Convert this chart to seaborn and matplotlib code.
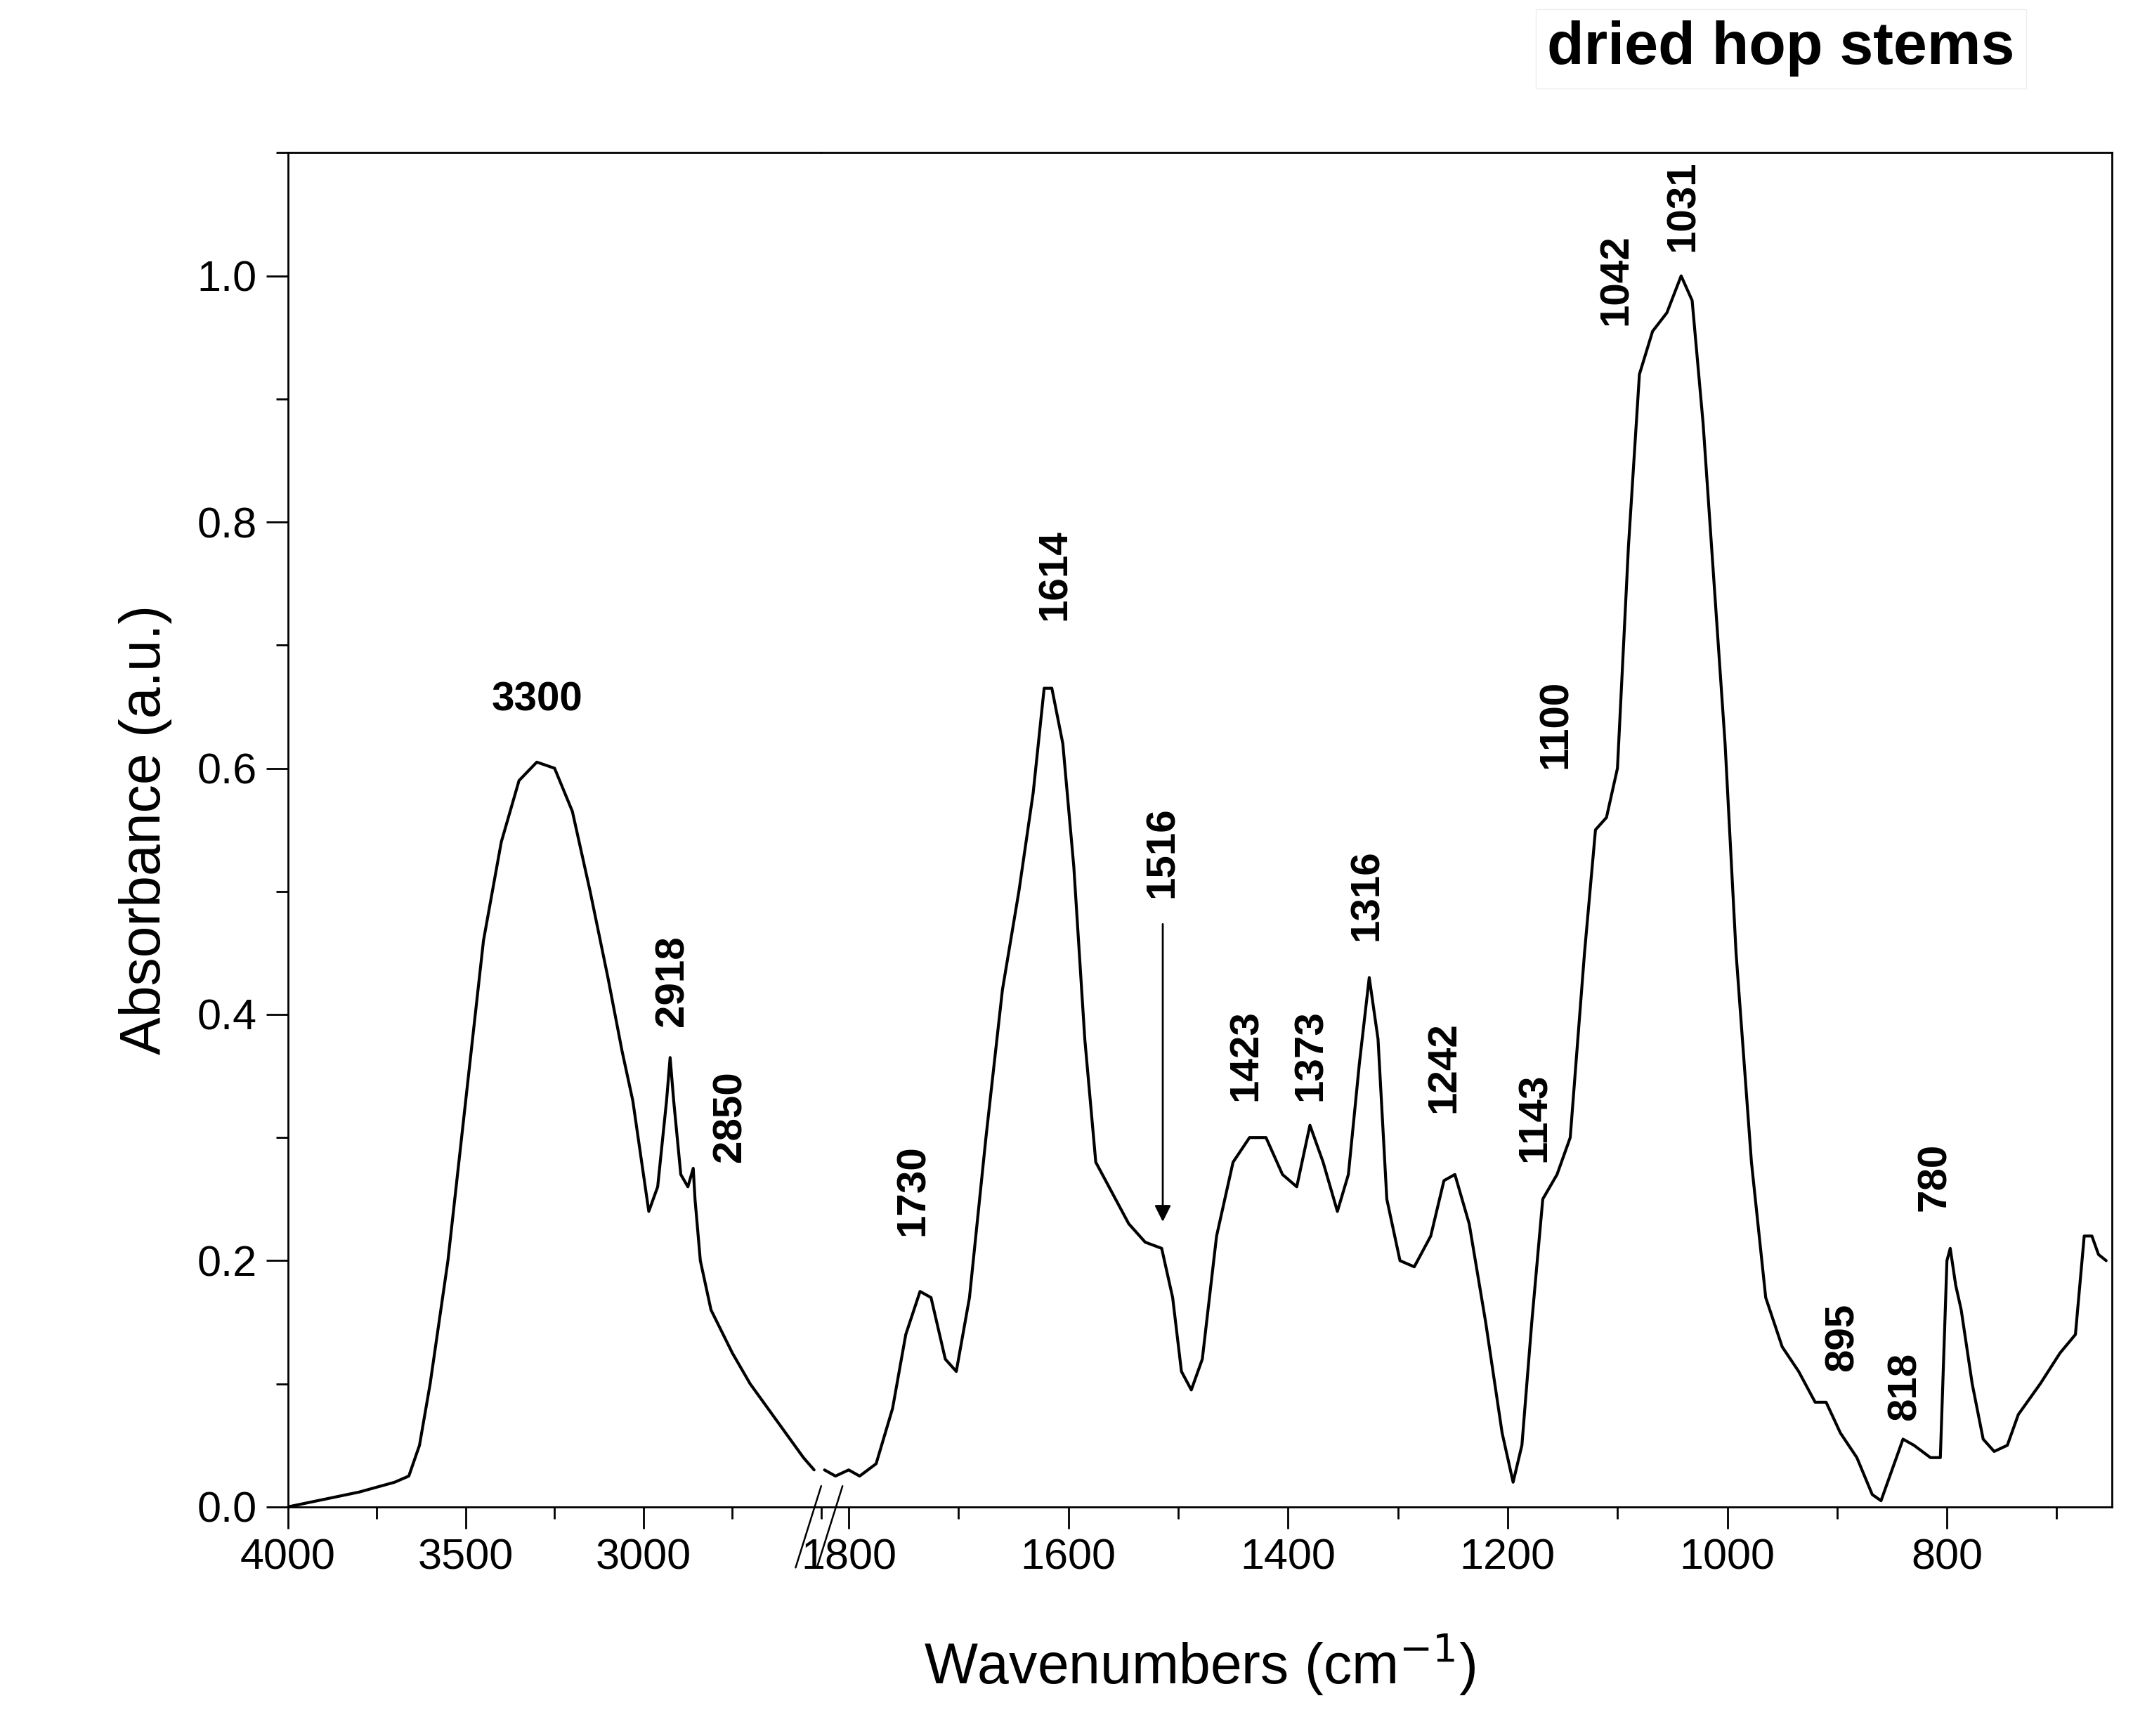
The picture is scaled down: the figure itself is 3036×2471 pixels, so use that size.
import numpy as np
import pandas as pd
import matplotlib
matplotlib.use('Agg')
import matplotlib.pyplot as plt
import seaborn as sns
from matplotlib.ticker import MultipleLocator

# spectrum, high wavenumber part
wn_hi = [4000, 3900, 3800, 3700, 3660, 3630, 3600, 3550, 3500, 3450, 3400, 3350, 3300, 3250,
         3200, 3150, 3100, 3060, 3030, 3000, 2985, 2960, 2935, 2925, 2915, 2895, 2875, 2860,
         2855, 2840, 2810, 2750, 2700, 2650, 2600, 2550, 2520]
ab_hi = [0.0, 0.006, 0.012, 0.02, 0.025, 0.05, 0.10, 0.20, 0.33, 0.46, 0.54, 0.59, 0.605, 0.60,
         0.565, 0.50, 0.43, 0.37, 0.33, 0.27, 0.24, 0.26, 0.33, 0.365, 0.33, 0.27, 0.26, 0.275,
         0.25, 0.20, 0.16, 0.125, 0.10, 0.08, 0.06, 0.04, 0.03]

# fingerprint part
wn_lo = [1822, 1812, 1800, 1790, 1775, 1760, 1748, 1735, 1725, 1712, 1702, 1690, 1675, 1660,
         1645, 1632, 1622, 1615, 1605, 1595, 1585, 1575, 1560, 1545, 1530, 1515, 1505, 1497,
         1488, 1478, 1465, 1450, 1435, 1420, 1405, 1392, 1380, 1368, 1355, 1345, 1335, 1326,
         1318, 1310, 1298, 1285, 1270, 1258, 1248, 1235, 1220, 1205, 1195, 1187, 1178, 1168,
         1155, 1143, 1130, 1120, 1110, 1100, 1090, 1080, 1068, 1055, 1042, 1032, 1022, 1012,
         1002, 992, 978, 965, 950, 935, 920, 910, 897, 882, 868, 860, 850, 840, 830, 815, 806,
         800, 797, 792, 787, 777, 767, 757, 745, 735, 715, 697, 683, 675, 668, 662, 655]
ab_lo = [0.03, 0.025, 0.03, 0.025, 0.035, 0.08, 0.14, 0.175, 0.17, 0.12, 0.11, 0.17, 0.30, 0.42,
         0.50, 0.58, 0.665, 0.665, 0.62, 0.52, 0.38, 0.28, 0.255, 0.23, 0.215, 0.21, 0.17, 0.11,
         0.095, 0.12, 0.22, 0.28, 0.30, 0.30, 0.27, 0.26, 0.31, 0.28, 0.24, 0.27, 0.36, 0.43,
         0.38, 0.25, 0.20, 0.195, 0.22, 0.265, 0.27, 0.23, 0.15, 0.06, 0.02, 0.05, 0.15, 0.25,
         0.27, 0.30, 0.45, 0.55, 0.56, 0.60, 0.78, 0.92, 0.955, 0.97, 1.0, 0.98, 0.88, 0.75,
         0.62, 0.45, 0.28, 0.17, 0.13, 0.11, 0.085, 0.085, 0.06, 0.04, 0.01, 0.005, 0.03, 0.055,
         0.05, 0.04, 0.04, 0.20, 0.21, 0.18, 0.16, 0.10, 0.055, 0.045, 0.05, 0.075, 0.10, 0.125,
         0.14, 0.22, 0.22, 0.205, 0.20]

# peak labels: text, x, y of label bottom
hi_labels = [('2918', 2918, 0.39), ('2850', 2755, 0.28)]
lo_labels = [('1730', 1741, 0.22), ('1614', 1612, 0.72), ('1516', 1514, 0.495),
             ('1423', 1438, 0.33), ('1373', 1379, 0.33), ('1316', 1328, 0.46),
             ('1242', 1258, 0.32), ('1143', 1175, 0.28), ('1100', 1156, 0.60),
             ('1042', 1101, 0.96), ('1031', 1040, 1.02), ('895', 895, 0.11),
             ('818', 838, 0.07), ('780', 811, 0.24)]

sns.set_style('ticks')
plt.rcParams['font.family'] = ['Liberation Sans', 'DejaVu Sans']
plt.rcParams['text.color'] = 'black'
plt.rcParams['axes.labelcolor'] = 'black'
plt.rcParams['xtick.color'] = 'black'
plt.rcParams['ytick.color'] = 'black'
plt.rcParams['axes.edgecolor'] = 'black'

fig = plt.figure(figsize=(30.36, 24.71), dpi=100)
L, B, T, R, BRK = 0.135, 0.132, 0.912, 0.99, 0.385
ax1 = fig.add_axes([L, B, BRK - L, T - B])
ax2 = fig.add_axes([BRK, B, R - BRK, T - B])

sns.lineplot(x=wn_hi, y=ab_hi, ax=ax1, color='black', lw=3, sort=False)
sns.lineplot(x=wn_lo, y=ab_lo, ax=ax2, color='black', lw=3, sort=False)

ax1.set_xlim(4000, 2500)
ax2.set_xlim(1825, 650)
ax1.set_ylim(0, 1.1)
ax2.set_ylim(0, 1.1)
ax1.set_xticks([4000, 3500, 3000])
ax1.xaxis.set_minor_locator(MultipleLocator(250))
ax2.set_xticks([1800, 1600, 1400, 1200, 1000, 800])
ax2.xaxis.set_minor_locator(MultipleLocator(100))
ax1.set_yticks([0, 0.2, 0.4, 0.6, 0.8, 1.0])
ax1.yaxis.set_minor_locator(MultipleLocator(0.1))
ax2.set_yticks([])
ax1.spines['right'].set_visible(False)
ax2.spines['left'].set_visible(False)
for ax in (ax1, ax2):
    for s in ax.spines.values():
        s.set_linewidth(2)
    ax.tick_params(axis='both', which='major', length=22, width=2, labelsize=44, pad=10)
    ax.tick_params(axis='both', which='minor', length=12, width=2)
ax2.tick_params(axis='y', which='both', left=False, right=False, labelleft=False)
ax1.set_yticklabels(['0.0', '0.2', '0.4', '0.6', '0.8', '1.0'])
ax1.set_ylabel('Absorbance (a.u.)', fontsize=58, labelpad=25)
fig.text((L + R) / 2, 0.03, 'Wavenumbers (cm$^{-1}$)', fontsize=58, ha='center')

kw = dict(fontsize=42, fontweight='bold', rotation=90, ha='center', va='bottom')
ax1.text(3300, 0.64, '3300', fontsize=42, fontweight='bold', ha='center', va='bottom')
for t, x, y in hi_labels:
    ax1.text(x, y, t, **kw)
for t, x, y in lo_labels:
    extra = {}
    if t in ('1100', '1031'):
        extra = dict(bbox=dict(facecolor='white', edgecolor='none', pad=2), clip_on=False, zorder=5)
    ax2.text(x, y, t, **kw, **extra)
ax2.annotate('', xy=(1514, 0.23), xytext=(1514, 0.475),
             arrowprops=dict(arrowstyle='-|>', color='black', lw=2, mutation_scale=35))

# break marks
for dx in (-0.006, 0.004):
    fig.add_artist(plt.Line2D([BRK + dx - 0.006, BRK + dx + 0.006], [B - 0.035, B + 0.012],
                              color='black', lw=1.8))

fig.text(0.835, 0.972, 'dried hop stems', fontsize=62, fontweight='bold', ha='center', va='center',
         bbox=dict(facecolor='white', edgecolor='#eeeeee', pad=12))

fig.savefig('out.png', dpi=100)
